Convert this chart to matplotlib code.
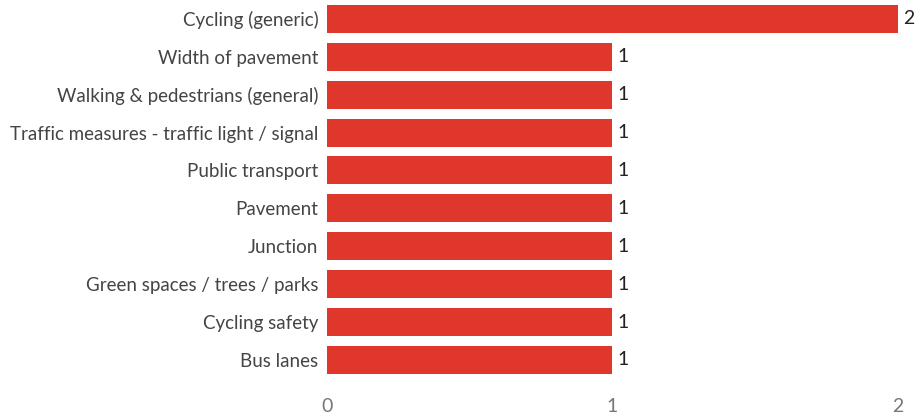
import matplotlib.pyplot as plt

# Categorías y conteos
categorias = ['Cycling (generic)', 'Width of pavement', 'Walking & pedestrians (general)',
              'Traffic measures - traffic light / signal', 'Public transport', 'Pavement',
              'Junction', 'Green spaces / trees / parks', 'Cycling safety', 'Bus lanes']
conteos = [2, 1, 1, 1, 1, 1, 1, 1, 1, 1]
ticks_x = [0, 1, 2]

plt.rcParams['font.family'] = ['Lato', 'DejaVu Sans']

fig = plt.figure(figsize=(9.15, 4.2), dpi=100)
ax = fig.add_axes([0.357, 0.098, 0.624, 0.902])

pos = list(range(len(categorias)))
ax.barh(pos, conteos, height=0.74, color='#e0372c')

for p, v in zip(pos, conteos):
    ax.text(v + 0.02, p, str(v), va='center', ha='left', fontsize=14, color='#222222')

ax.set_xlim(0, 2)
ax.set_ylim(len(categorias) - 0.5, -0.5)
ax.set_yticks(pos)
ax.set_yticklabels(categorias, fontsize=13.5, color='#444444')
ax.set_xticks(ticks_x)
ax.set_xticklabels([str(t) for t in ticks_x], fontsize=14, color='#777777')
ax.tick_params(axis='both', length=0)
ax.tick_params(axis='y', pad=6)
ax.tick_params(axis='x', pad=14)
for s in ax.spines.values():
    s.set_visible(False)

fig.savefig('out.png', dpi=100)
